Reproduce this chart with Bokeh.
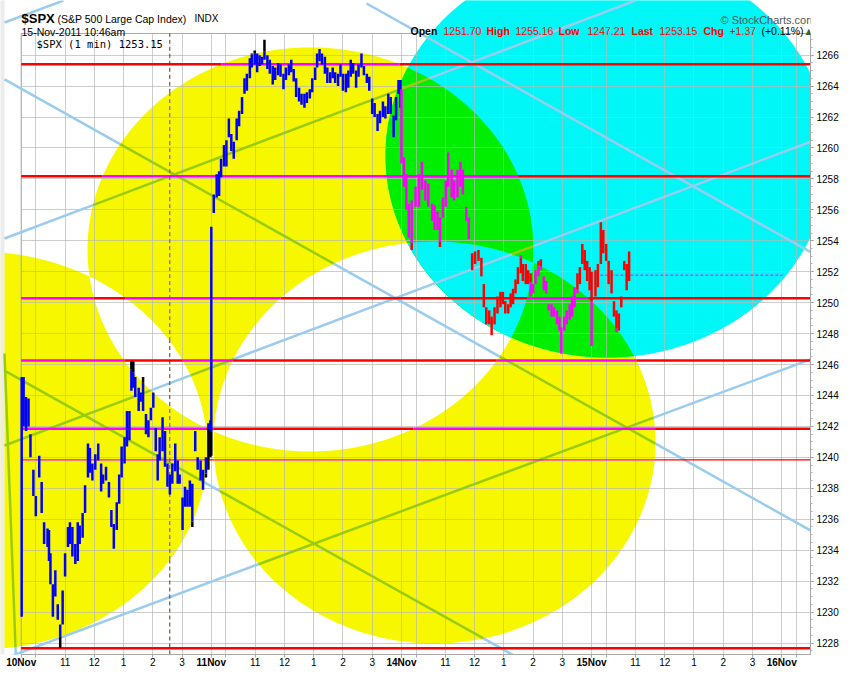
import numpy as np
from itertools import combinations
from bokeh.plotting import figure
from bokeh.models import (Range1d, FixedTicker, PolyAnnotation, Label, ColumnDataSource, LinearAxis)
from bokeh.embed import file_html
from bokeh.resources import INLINE

FONT = "Liberation Sans"

# ---------------- data ----------------
session_hours = 6.5                      # 9:30 .. 16:00
day_names = ["10Nov", "11Nov", "14Nov", "15Nov", "16Nov"]
hour_offsets = [0.0, 0.5, 1.5, 2.5, 3.5, 4.5, 5.5]
hour_labels = ["", "", "11", "12", "1", "2", "3"]
price_ticks = list(range(1228, 1267, 2))

# 1-minute chart, sampled about every 5 minutes: minutes after 9:30, bar high, bar low
nov10_min = [1, 5, 10, 15, 19, 25, 30, 37, 42, 47,
             54, 57, 60, 65, 70, 75, 80, 85, 90, 96,
             100, 105, 111, 116, 120, 126, 131, 137, 141, 146,
             152, 158, 164, 168, 174, 180, 185, 190, 196, 201,
             206, 212, 217, 222, 226, 230, 234, 241, 245, 250,
             256, 261, 266, 271, 276, 280, 284, 290, 295, 300,
             305, 310, 316, 321, 325, 331, 336, 341, 346, 351,
             357, 362, 368, 373, 379, 384, 388]
nov10_high = [1245.2, 1245.2, 1243.9, 1243.8, 1241.5, 1239.2, 1237.5, 1240.1, 1238.4, 1235.8,
              1235.4, 1235.3, 1233.8, 1231.8, 1232.7, 1230.5, 1229.2, 1231.4, 1233.8, 1235.5,
              1235.8, 1235.5, 1234.4, 1235.8, 1235.6, 1236.4, 1238.2, 1240.9, 1240.6, 1239.6,
              1240.2, 1240.9, 1239.6, 1238.9, 1239.4, 1238.4, 1236.6, 1235.7, 1237.1, 1238.9,
              1240.7, 1241.3, 1243.0, 1243.0, 1246.2, 1246.2, 1245.2, 1244.5, 1244.2, 1245.2,
              1242.8, 1242.4, 1243.2, 1244.2, 1241.9, 1240.2, 1241.3, 1242.6, 1241.7, 1239.6,
              1238.9, 1239.6, 1240.9, 1239.8, 1238.9, 1237.4, 1238.1, 1237.9, 1238.5, 1238.3,
              1241.7, 1240.0, 1239.8, 1239.2, 1240.0, 1242.2, 1242.4]
nov10_low = [1229.7, 1242.0, 1241.7, 1242.0, 1240.0, 1237.5, 1236.2, 1238.7, 1236.4, 1234.4,
             1234.2, 1233.3, 1231.8, 1229.7, 1231.0, 1229.5, 1227.7, 1229.2, 1232.3, 1234.2,
             1234.4, 1233.6, 1233.1, 1233.3, 1234.4, 1234.8, 1236.4, 1238.7, 1239.0, 1238.5,
             1239.2, 1239.8, 1237.8, 1238.3, 1238.5, 1237.4, 1235.5, 1234.1, 1235.3, 1237.0,
             1238.7, 1239.6, 1240.7, 1241.1, 1244.3, 1244.5, 1243.9, 1243.0, 1243.6, 1243.0,
             1241.5, 1241.3, 1242.4, 1243.2, 1240.4, 1238.5, 1239.8, 1240.4, 1239.4, 1238.1,
             1237.6, 1238.3, 1239.1, 1238.3, 1238.3, 1235.3, 1236.8, 1236.8, 1236.8, 1235.5,
             1240.4, 1239.2, 1238.5, 1237.9, 1238.7, 1239.2, 1240.0]

nov11_min = [0, 5, 11, 16, 20, 26, 31, 36, 41, 46,
             52, 57, 63, 68, 73, 79, 83, 89, 94, 99,
             104, 109, 115, 120, 126, 131, 137, 142, 148, 153,
             159, 164, 169, 174, 180, 185, 191, 196, 202, 207,
             213, 217, 222, 227, 233, 238, 244, 249, 254, 260,
             265, 270, 276, 281, 286, 291, 297, 302, 308, 313,
             319, 324, 330, 335, 341, 346, 352, 357, 363, 368,
             374, 379, 384, 388]
nov11_high = [1254.9, 1257.0, 1258.3, 1258.5, 1259.3, 1260.2, 1260.5, 1261.9, 1260.9, 1260.4,
              1261.9, 1262.4, 1263.3, 1264.5, 1264.8, 1265.8, 1266.1, 1266.3, 1266.1, 1266.0,
              1265.9, 1267.0, 1266.0, 1265.7, 1265.3, 1265.2, 1265.5, 1265.4, 1264.8, 1265.2,
              1265.4, 1265.7, 1265.1, 1264.5, 1263.9, 1263.5, 1263.5, 1263.6, 1263.8, 1264.5,
              1265.2, 1266.1, 1266.4, 1266.1, 1265.9, 1265.2, 1264.9, 1265.2, 1264.9, 1264.8,
              1265.4, 1264.8, 1264.8, 1265.0, 1265.7, 1265.5, 1265.0, 1265.4, 1266.1, 1265.3,
              1264.8, 1264.6, 1263.2, 1262.9, 1262.2, 1262.4, 1263.0, 1262.7, 1263.5, 1263.3,
              1262.1, 1263.3, 1264.4, 1264.4]
nov11_low = [1240.1, 1255.8, 1256.8, 1256.9, 1258.1, 1258.8, 1258.8, 1260.7, 1259.8, 1259.3,
             1260.5, 1261.4, 1262.2, 1263.5, 1263.7, 1264.5, 1265.2, 1265.4, 1264.9, 1265.3,
             1265.4, 1265.7, 1265.1, 1264.8, 1264.1, 1264.4, 1264.7, 1264.6, 1263.8, 1264.4,
             1264.7, 1264.9, 1264.3, 1263.3, 1263.0, 1262.8, 1262.6, 1262.9, 1263.2, 1263.6,
             1264.4, 1265.2, 1265.6, 1265.4, 1264.8, 1264.2, 1264.2, 1264.5, 1264.2, 1264.0,
             1264.6, 1263.7, 1263.6, 1263.9, 1264.6, 1264.8, 1263.9, 1264.6, 1265.2, 1264.7,
             1264.2, 1263.7, 1262.2, 1262.0, 1261.1, 1261.6, 1262.0, 1261.9, 1262.2, 1262.2,
             1260.7, 1261.8, 1263.5, 1262.6]

nov14_min = [0, 5, 10, 15, 21, 29, 36, 42, 49, 55,
             63, 68, 74, 79, 85, 91, 96, 103, 108, 115,
             121, 126, 133, 138, 145, 151, 158, 164, 169, 174,
             180, 185, 191, 197, 203, 208, 213, 219, 224, 229,
             234, 239, 245, 249, 255, 260, 265, 270, 275, 281,
             286, 292, 297, 302, 308, 313, 319, 324, 328, 334,
             339, 345, 350, 355, 361, 366, 371, 376, 381, 386]
nov14_high = [1263.8, 1259.4, 1258.3, 1256.4, 1256.6, 1257.5, 1258.3, 1259.1, 1257.9, 1257.7,
              1256.4, 1256.3, 1255.9, 1255.5, 1256.8, 1257.9, 1259.7, 1258.6, 1257.9, 1258.6,
              1259.1, 1258.6, 1256.2, 1255.5, 1253.2, 1253.3, 1253.4, 1252.9, 1251.2, 1249.7,
              1249.5, 1249.1, 1249.7, 1250.4, 1250.7, 1250.7, 1250.1, 1249.9, 1250.6, 1250.9,
              1251.5, 1252.3, 1253.05, 1252.5, 1252.5, 1252.1, 1251.9, 1251.2, 1252.1, 1252.7,
              1252.8, 1251.7, 1251.4, 1249.9, 1249.9, 1249.7, 1249.5, 1249.1, 1248.4, 1249.1,
              1249.5, 1249.9, 1250.4, 1251.0, 1251.9, 1252.3, 1253.8, 1253.4, 1252.7, 1252.3]
nov14_low = [1259.0, 1257.5, 1256.0, 1254.2, 1253.4, 1256.2, 1256.2, 1257.3, 1256.6, 1256.2,
             1255.3, 1254.7, 1254.7, 1253.6, 1255.5, 1256.2, 1257.5, 1256.8, 1256.6, 1256.8,
             1257.5, 1257.0, 1255.3, 1254.1, 1252.1, 1252.5, 1252.7, 1251.7, 1249.7, 1248.6,
             1248.6, 1247.9, 1248.6, 1249.3, 1249.7, 1249.9, 1249.3, 1249.3, 1249.7, 1249.9,
             1250.6, 1251.2, 1251.9, 1251.4, 1251.2, 1251.2, 1250.4, 1250.6, 1251.2, 1251.7,
             1252.1, 1250.8, 1250.6, 1249.5, 1249.1, 1249.1, 1248.6, 1248.2, 1246.7, 1248.2,
             1248.6, 1248.9, 1249.1, 1249.7, 1250.6, 1251.2, 1252.5, 1252.1, 1251.4, 1250.8]

nov15_min = [0, 8, 13, 19, 24, 30, 35, 41, 46, 51, 56, 61, 67, 72, 77]
nov15_high = [1252.0, 1252.1, 1252.5, 1255.2, 1254.7, 1253.8, 1252.7, 1252.1, 1250.1, 1249.5,
              1249.3, 1250.4, 1252.7, 1252.5, 1253.3]
nov15_low = [1247.2, 1250.4, 1251.0, 1252.5, 1253.2, 1252.7, 1251.2, 1250.6, 1249.1, 1248.1,
             1248.2, 1249.7, 1252.1, 1250.8, 1251.4]

# horizontal price levels drawn on the chart
level_prices = [1265.41, 1258.17, 1250.29, 1246.26, 1241.85, 1239.84, 1227.66]
prev_close = 1251.78
prev_close_from, prev_close_to = 19.63, 26.03
marker_time = 5.08                       # dashed vertical marker (session hours)

# annotation ellipses (centre hour, centre price, radius in hours, radius in points)
ell_kind = ["yellow", "yellow", "yellow", "cyan"]
ell_h = [9.891, 14.130, -1.460, 20.044]
ell_p = [1253.44, 1240.96, 1240.44, 1259.51]
ell_rh = [7.624, 7.556, 7.829, 7.590]
ell_rp = [13.06, 12.99, 12.86, 13.06]

# trend lines (start hour, start price, end hour, end price)
trend_h0 = [-0.571, -0.571, 11.806, -0.571, -0.571, -0.571, -0.571, -0.571]
trend_p0 = [1268.11, 1264.43, 1269.34, 1245.61, 1254.15, 1240.77, 1227.00, 1246.71]
trend_h1 = [1.446, 28.455, 28.455, 18.437, 21.000, 28.455, 28.455, -0.178]
trend_p1 = [1269.53, 1233.72, 1251.72, 1225.51, 1269.53, 1261.45, 1247.36, 1226.87]

header_words = ["Open", "1251.70", "High", "1255.16", "Low", "1247.21",
                "Last", "1253.15", "Chg", "+1.37", "(+0.11%)", "\u25b2"]

# ---------------- styles / geometry ----------------
YELLOW, CYAN, GREEN = "#f7f700", "#00f7f7", "#00ee00"
LIGHTBLUE = "#99ccee"
FRAMEC = "#a8a8a8"
X0, X1 = -0.7077, 26.985          # frame, hours (includes the narrow strip left of the price box)
Y0, PLOT_TOP = 1227.257, 1267.40  # price area
Y1 = 1269.533                     # frame extends over the header strip
STRIP_EDGE = -0.571               # left edge of the drawing area


def xor_blue(c):
    r, g, b = int(c[1:3], 16), int(c[3:5], 16), int(c[5:7], 16)
    return "#%02x%02x%02x" % (r, g, 255 - b)


yellow_idx = [i for i, k in enumerate(ell_kind) if k == "yellow"]


def inside(i, h, pr, tol=0.0):
    return ((h - ell_h[i]) / ell_rh[i]) ** 2 + ((pr - ell_p[i]) / ell_rp[i]) ** 2 <= 1 + tol


def parity(h, pr):
    n = np.zeros(np.shape(h), dtype=int)
    for i in yellow_idx:
        n += inside(i, h, pr).astype(int)
    return n % 2


def runs(par):
    out, s = [], 0
    for k in range(1, len(par) + 1):
        if k == len(par) or par[k] != par[s]:
            out.append((s, k - 1, int(par[s])))
            s = k
    return out


def split_line(h0, p0, h1, p1, n=3000):
    t = np.linspace(0, 1, n)
    hh, pp = h0 + t * (h1 - h0), p0 + t * (p1 - p0)
    par = parity(hh, pp)
    pieces = []
    for s, e, v in runs(par):
        ts = t[0] if s == 0 else 0.5 * (t[s - 1] + t[s])
        te = t[-1] if e == n - 1 else 0.5 * (t[e] + t[e + 1])
        pieces.append((h0 + ts * (h1 - h0), p0 + ts * (p1 - p0),
                       h0 + te * (h1 - h0), p0 + te * (p1 - p0), v))
    return pieces


p = figure(width=847, height=670, output_backend="svg", toolbar_location=None,
           x_range=Range1d(X0, X1), y_range=Range1d(Y0, Y1), y_axis_location="right",
           min_border_left=0, min_border_right=37, min_border_top=0, min_border_bottom=16)
p.background_fill_color = "white"
p.border_fill_color = "white"
p.outline_line_color = None

# ---- axes / grid ----
x_ticks, x_over = [], {}
for d in range(len(day_names)):
    for o, lab in zip(hour_offsets, hour_labels):
        t = d * session_hours + o
        if t <= X1:
            x_ticks.append(t)
            x_over[t] = lab
p.xaxis.ticker = FixedTicker(ticks=x_ticks)
p.xaxis.bounds = (0, X1)
p.xaxis.major_label_overrides = x_over
p.xaxis.major_label_text_font = FONT
p.xaxis.major_label_text_font_size = "10px"
p.xaxis.major_label_text_color = "black"
p.xaxis.major_label_standoff = 0
p.xaxis.major_tick_out = 3
p.xaxis.major_tick_in = 0
p.xaxis.minor_tick_line_color = None
p.xaxis.axis_line_color = FRAMEC
p.xaxis.major_tick_line_color = FRAMEC

# bold session names share the row of the hour labels
day_ticks = [d * session_hours for d in range(len(day_names)) if d * session_hours <= X1]
day_axis = LinearAxis(ticker=FixedTicker(ticks=day_ticks),
                      major_label_overrides={t: day_names[i] for i, t in enumerate(day_ticks)},
                      major_label_text_font=FONT, major_label_text_font_size="10px",
                      major_label_text_font_style="bold", major_label_text_color="black",
                      major_label_standoff=-12, major_tick_out=0, major_tick_in=0,
                      major_tick_line_color=None, minor_tick_line_color=None, axis_line_color=None)
p.add_layout(day_axis, "below")

p.yaxis.ticker = FixedTicker(ticks=price_ticks, minor_ticks=list(np.arange(1227.5, 1267.5, 0.5)))
p.yaxis.bounds = (Y0, PLOT_TOP)
p.yaxis.major_label_text_font = FONT
p.yaxis.major_label_text_font_size = "10px"
p.yaxis.major_label_text_color = "black"
p.yaxis.major_label_standoff = 3
p.yaxis.major_tick_out = 3
p.yaxis.major_tick_in = 0
p.yaxis.minor_tick_out = 2
p.yaxis.minor_tick_in = 0
p.yaxis.axis_line_color = FRAMEC
p.yaxis.major_tick_line_color = "#808080"
p.yaxis.minor_tick_line_color = "#b0b0b0"

p.xgrid.ticker = FixedTicker(ticks=x_ticks)
p.ygrid.ticker = FixedTicker(ticks=price_ticks)
for g in (p.xgrid, p.ygrid):
    g.grid_line_color = "#b8b8b8"
    g.grid_line_alpha = 0.7
    g.level = "underlay"


def ann_poly(xs, ys, color, level):
    p.add_layout(PolyAnnotation(xs=list(xs), ys=list(ys), fill_color=color, fill_alpha=1.0,
                                line_alpha=0.0, level=level))


def ann_line(xs, ys, color, width, level="underlay"):
    p.add_layout(PolyAnnotation(xs=list(xs), ys=list(ys), fill_alpha=0.0, line_color=color,
                                line_width=width, line_alpha=1.0, level=level))


def convex_sorted(hs, ps):
    o = np.argsort(np.arctan2((ps - ps.mean()) / 13.0, (hs - hs.mean()) / 7.6))
    return hs[o], ps[o]


# ---- ellipse fills (xor look): paint every intersection in order of size ----
tt = np.linspace(0, 2 * np.pi, 2400, endpoint=False)
for k in range(1, len(ell_h) + 1):
    for S in combinations(range(len(ell_h)), k):
        hs, ps = [], []
        for i in S:
            bh = ell_h[i] + ell_rh[i] * np.cos(tt)
            bp = ell_p[i] + ell_rp[i] * np.sin(tt)
            m = np.ones(len(tt), bool)
            for j in S:
                if j != i:
                    m &= inside(j, bh, bp, 1e-9)
            hs.append(bh[m]); ps.append(bp[m])
        hs, ps = np.concatenate(hs), np.concatenate(ps)
        if len(hs) < 3:
            continue
        ny = sum(1 for i in S if ell_kind[i] == "yellow") % 2
        nc = any(ell_kind[i] == "cyan" for i in S)
        col = {(1, False): YELLOW, (0, False): "white", (0, True): CYAN, (1, True): GREEN}[(ny, nc)]
        ann_poly(*convex_sorted(hs, ps), col, "image")

# ---- outside the price box: hide the grid, keep the ellipse parts ----
ann_poly([X0 - 1, X1 + 1, X1 + 1, X0 - 1], [PLOT_TOP, PLOT_TOP, Y1 + 1, Y1 + 1], "white", "underlay")
ann_poly([X0 - 1, 0, 0, X0 - 1], [Y0 - 1, Y0 - 1, PLOT_TOP, PLOT_TOP], "white", "underlay")
ann_poly([X0 - 1, STRIP_EDGE, STRIP_EDGE, X0 - 1], [Y0 - 1, Y0 - 1, Y1 + 1, Y1 + 1], "#ececec", "underlay")
for i, kind in enumerate(ell_kind):
    col = CYAN if kind == "cyan" else YELLOW
    bh = ell_h[i] + ell_rh[i] * np.cos(tt)
    bp = ell_p[i] + ell_rp[i] * np.sin(tt)
    # above the price box
    q = (PLOT_TOP - ell_p[i]) / ell_rp[i]
    m = bp >= PLOT_TOP
    if m.sum() >= 3 and abs(q) < 1:
        half = ell_rh[i] * np.sqrt(1 - q * q)
        ann_poly(*convex_sorted(np.concatenate([bh[m], [ell_h[i] - half, ell_h[i] + half]]),
                                np.concatenate([bp[m], [PLOT_TOP, PLOT_TOP]])), col, "underlay")
    # left of the price box (drawing area starts at STRIP_EDGE)
    m = (bh <= 0) & (bh >= STRIP_EDGE)
    if m.sum() >= 3:
        hs, ps = [bh[m]], [bp[m]]
        for edge in (0.0, STRIP_EDGE):
            r = (edge - ell_h[i]) / ell_rh[i]
            if abs(r) < 1:
                half = ell_rp[i] * np.sqrt(1 - r * r)
                hs.append([edge, edge]); ps.append([ell_p[i] - half, ell_p[i] + half])
        ann_poly(*convex_sorted(np.concatenate(hs), np.concatenate(ps)), col, "underlay")

# plot box: left and top edges (right/bottom are the axes)
ann_line([0, 0], [Y0 - 1, PLOT_TOP], FRAMEC, 1)
ann_line([0, X1 + 1], [PLOT_TOP, PLOT_TOP], FRAMEC, 1)

# ---- trend lines ----
for h0, p0, h1, p1 in zip(trend_h0, trend_p0, trend_h1, trend_p1):
    for a, b, c, d, v in split_line(h0, p0, h1, p1):
        ann_line([a, c], [b, d], xor_blue(LIGHTBLUE) if v else LIGHTBLUE, 2.5)

# ---- horizontal levels ----
lv = dict(x0=[], y0=[], x1=[], y1=[], c=[], w=[])
for k, lp in enumerate(level_prices):
    for a, b, c, d, v in split_line(0.0, lp, X1, lp, n=4000):
        lv["x0"].append(a); lv["y0"].append(b); lv["x1"].append(c); lv["y1"].append(d)
        lv["c"].append("#ff00ff" if v else "#ff0000")
        lv["w"].append(1.2 if k == 5 else 2.4)
p.segment(x0="x0", y0="y0", x1="x1", y1="y1", line_color="c", line_width="w",
          source=ColumnDataSource(lv))

# dashed vertical marker
mk = dict(x0=[], y0=[], x1=[], y1=[], c=[])
for a, b, c, d, v in split_line(marker_time, Y0, marker_time, PLOT_TOP, n=3000):
    mk["x0"].append(a); mk["y0"].append(b); mk["x1"].append(c); mk["y1"].append(d)
    mk["c"].append(xor_blue("#663300") if v else "#663300")
p.segment(x0="x0", y0="y0", x1="x1", y1="y1", line_color="c", line_width=1, line_dash="4 3",
          source=ColumnDataSource(mk))

# previous close (dashed magenta)
p.segment(x0=[prev_close_from], y0=[prev_close], x1=[prev_close_to], y1=[prev_close],
          line_color="#ff00ff", line_width=1, line_dash="3 2")

# ---- price bars ----
bars = dict(x0=[], y0=[], x1=[], y1=[], c=[])
sessions = [(0, nov10_min, nov10_high, nov10_low, "#000000"),
            (1, nov11_min, nov11_high, nov11_low, "#000000"),
            (2, nov14_min, nov14_high, nov14_low, "#ff0000"),
            (3, nov15_min, nov15_high, nov15_low, "#ff0000")]
for d, mins, his, los, base in sessions:
    for m, hi, lo in zip(mins, his, los):
        h = d * session_hours + m / 60.0
        for a, b, c, e, v in split_line(h, lo, h, hi, n=80):
            bars["x0"].append(a); bars["y0"].append(b); bars["x1"].append(c); bars["y1"].append(e)
            bars["c"].append(xor_blue(base) if v else base)
p.segment(x0="x0", y0="y0", x1="x1", y1="y1", line_color="c", line_width=2.5,
          source=ColumnDataSource(bars))


# ---- texts ----
def R(x, y):
    """reference pixel position -> (hour, price)"""
    return (x - 20.7) / 29.25, 1228 + (642.5 - y) / 15.47


def lab(x, y, text, size="10px", bold=False, color="black", font=FONT, align="left"):
    p.add_layout(Label(x=x, y=y, x_units="data", y_units="data", text=text, text_font=font,
                       text_font_size=size, text_font_style="bold" if bold else "normal",
                       text_color=color, text_align=align, text_baseline="alphabetic"))


lab(*R(21, 18), "$SPX", size="13px", bold=True)
lab(*R(57, 18), "(S&P 500 Large Cap Index)", size="10.5px")
lab(*R(194, 18), "INDX", size="10px")
lab(*R(21, 31), "15-Nov-2011 10:46am", size="10.5px")
lab(*R(720, 19), "\u00a9 StockCharts.com", size="11px", color="#555555")
lab(*R(36, 43), "$SPX (1 min) 1253.15", size="10.5px", font="DejaVu Sans Mono")

word_x = [410, 443, 486, 515, 558, 587, 631, 659, 703, 729, 761, 803]
word_bold = [True, False, True, False, True, False, True, False, True, False, False, False]
word_col = ["black", "red", "red", "red", "red", "red", "red", "red", "red", "red", "black", "#336633"]
for wx, w, b, c in zip(word_x, header_words, word_bold, word_col):
    lab(*R(wx, 30.5), w, size="10.5px", bold=b, color=c)

open("out.html", "w").write(file_html(p, INLINE))
